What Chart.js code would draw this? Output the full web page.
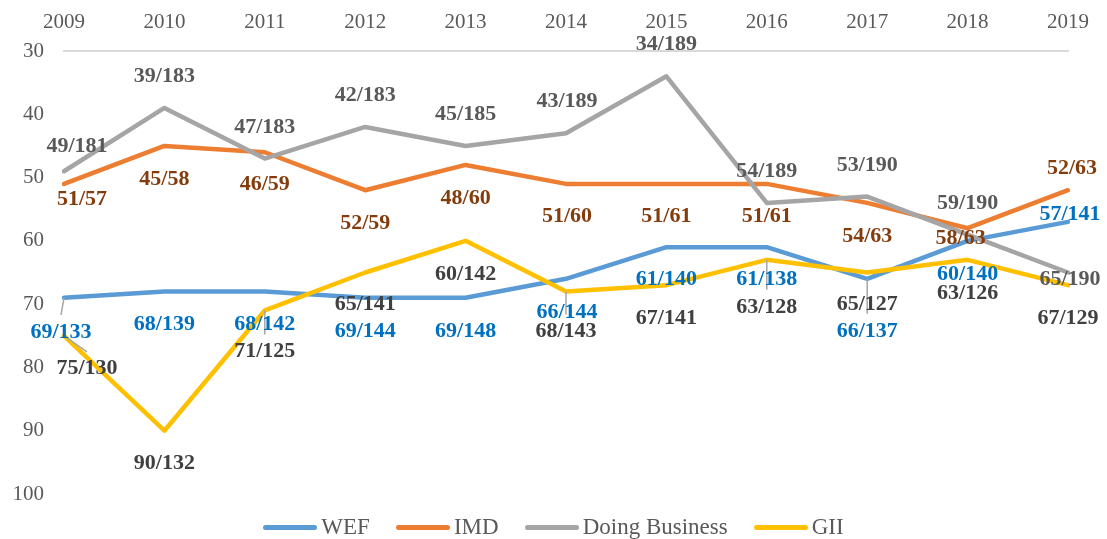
<!DOCTYPE html>
<html>
<head>
<meta charset="utf-8">
<script src="https://cdn.jsdelivr.net/npm/chart.js@4.4.1/dist/chart.umd.min.js"></script>
<style>
  body { margin: 0; background: #fff; }
  #wrap { position: relative; width: 1107px; height: 539px; }
  #legend {
    position: absolute; left: 0; top: 514px; width: 1107px;
    display: flex; justify-content: center; align-items: center;
    font-family: "Liberation Serif", "DejaVu Serif", serif; font-size: 23px; color: #595959;
  }
  .item { display: flex; align-items: center; margin: 0 13px; }
  .swatch { width: 54px; height: 5px; border-radius: 3px; margin-right: 4px; }
</style>
</head>
<body>
<div id="wrap">
  <canvas id="chart" width="1107" height="539"></canvas>
  <div id="legend"></div>
</div>
<script>
// データ
const years = ["2009", "2010", "2011", "2012", "2013", "2014", "2015", "2016", "2017", "2018", "2019"]
const yTicks = [30, 40, 50, 60, 70, 80, 90, 100]

const wefRank = [69, 68, 68, 69, 69, 66, 61, 61, 66, 60, 57]
const wefTotal = [133, 139, 142, 144, 148, 144, 140, 138, 137, 140, 141]
const imdRank = [51, 45, 46, 52, 48, 51, 51, 51, 54, 58, 52]
const imdTotal = [57, 58, 59, 59, 60, 60, 61, 61, 63, 63, 63]
const dbRank = [49, 39, 47, 42, 45, 43, 34, 54, 53, 59, 65]
const dbTotal = [181, 183, 183, 183, 185, 189, 189, 189, 190, 190, 190]
const giiRank = [75, 90, 71, 65, 60, 68, 67, 63, 65, 63, 67]
const giiTotal = [130, 132, 125, 141, 142, 143, 141, 128, 127, 126, 129]

// ラベル位置 [dx, dy, 引き出し線]
const wefLabelPos = [[-3, 34, 1], [0, 33], [0, 33], [0, 33], [0, 33], [1, 33], [0, 32], [0, 32], [0, 52, 1], [0, 33], [2, -8]]
const imdLabelPos = [[18, 15], [0, 33], [0, 32], [0, 33], [0, 33], [1, 32], [0, 32], [0, 32], [0, 33], [-7, 10], [4, -22]]
const dbLabelPos = [[13, -25], [0, -32], [0, -31], [0, -32], [0, -32], [1, -32], [0, -32], [0, -32], [0, -31], [0, -31], [2, 7]]
const giiLabelPos = [[23, 33, 1], [0, 33], [0, 41, 1], [0, 32], [0, 33], [0, 40, 1], [0, 33], [0, 47, 1], [0, 32], [0, 33], [0, 33]]

const serif = '"Liberation Serif", "DejaVu Serif", serif'

function makeSeries(label, rank, total, color, labelColor, pos, order) {
  return {
    label: label,
    data: rank,
    borderColor: color,
    backgroundColor: color,
    borderWidth: 4.5,
    borderJoinStyle: "round",
    borderCapStyle: "round",
    pointRadius: 0,
    tension: 0,
    fill: false,
    order: order,
    labelText: rank.map((r, i) => r + "/" + total[i]),
    labelColor: labelColor,
    labelPos: pos,
  }
}

// データラベル
const rankLabels = {
  id: "rankLabels",
  afterDatasetsDraw(chart) {
    const ctx = chart.ctx
    ctx.save()
    // 引き出し線
    ctx.strokeStyle = "#a6a6a6"
    ctx.lineWidth = 1.5
    chart.data.datasets.forEach((ds, di) => {
      chart.getDatasetMeta(di).data.forEach((pt, i) => {
        const p = ds.labelPos[i]
        if (!p[2]) return
        ctx.beginPath()
        ctx.moveTo(pt.x, pt.y)
        ctx.lineTo(pt.x + p[0], pt.y + p[1] - 17)
        ctx.stroke()
      })
    })
    ctx.font = "bold 22px " + serif
    ctx.textAlign = "center"
    ctx.textBaseline = "middle"
    chart.data.datasets.forEach((ds, di) => {
      ctx.fillStyle = ds.labelColor
      chart.getDatasetMeta(di).data.forEach((pt, i) => {
        const p = ds.labelPos[i]
        ctx.fillText(ds.labelText[i], pt.x + p[0], pt.y + p[1])
      })
    })
    ctx.restore()
  },
}

const datasets = [
  makeSeries("WEF", wefRank, wefTotal, "#5b9bd5", "#0070c0", wefLabelPos, 4),
  makeSeries("IMD", imdRank, imdTotal, "#ed7d31", "#843c0c", imdLabelPos, 3),
  makeSeries("Doing Business", dbRank, dbTotal, "#a5a5a5", "#595959", dbLabelPos, 2),
  makeSeries("GII", giiRank, giiTotal, "#ffc000", "#404040", giiLabelPos, 1),
]

const chart = new Chart(document.getElementById("chart"), {
  type: "line",
  data: { labels: years, datasets: datasets },
  plugins: [rankLabels],
  options: {
    responsive: false,
    animation: false,
    layout: { padding: { left: 0, right: 39, top: 0, bottom: 45 } },
    plugins: {
      legend: { display: false },
      tooltip: { enabled: false },
    },
    scales: {
      x: {
        position: "top",
        offset: false,
        grid: { display: false },
        border: { display: true, color: "#d9d9d9", width: 2 },
        ticks: { font: { family: serif, size: 21 }, color: "#595959", padding: 8, maxRotation: 0 },
        afterFit(scale) { scale.height = 51 },
      },
      y: {
        reverse: true,
        min: 30,
        max: 100,
        grid: { display: false },
        border: { display: false },
        afterBuildTicks(scale) { scale.ticks = yTicks.map((v) => ({ value: v })) },
        ticks: { font: { family: serif, size: 21 }, color: "#595959", padding: 12 },
        afterFit(scale) { scale.width = 64 },
      },
    },
  },
})

// 凡例
const legend = document.getElementById("legend")
datasets.forEach((ds) => {
  const item = document.createElement("div")
  item.className = "item"
  const sw = document.createElement("span")
  sw.className = "swatch"
  sw.style.background = ds.borderColor
  const txt = document.createElement("span")
  txt.textContent = ds.label
  item.appendChild(sw)
  item.appendChild(txt)
  legend.appendChild(item)
})
</script>
</body>
</html>
